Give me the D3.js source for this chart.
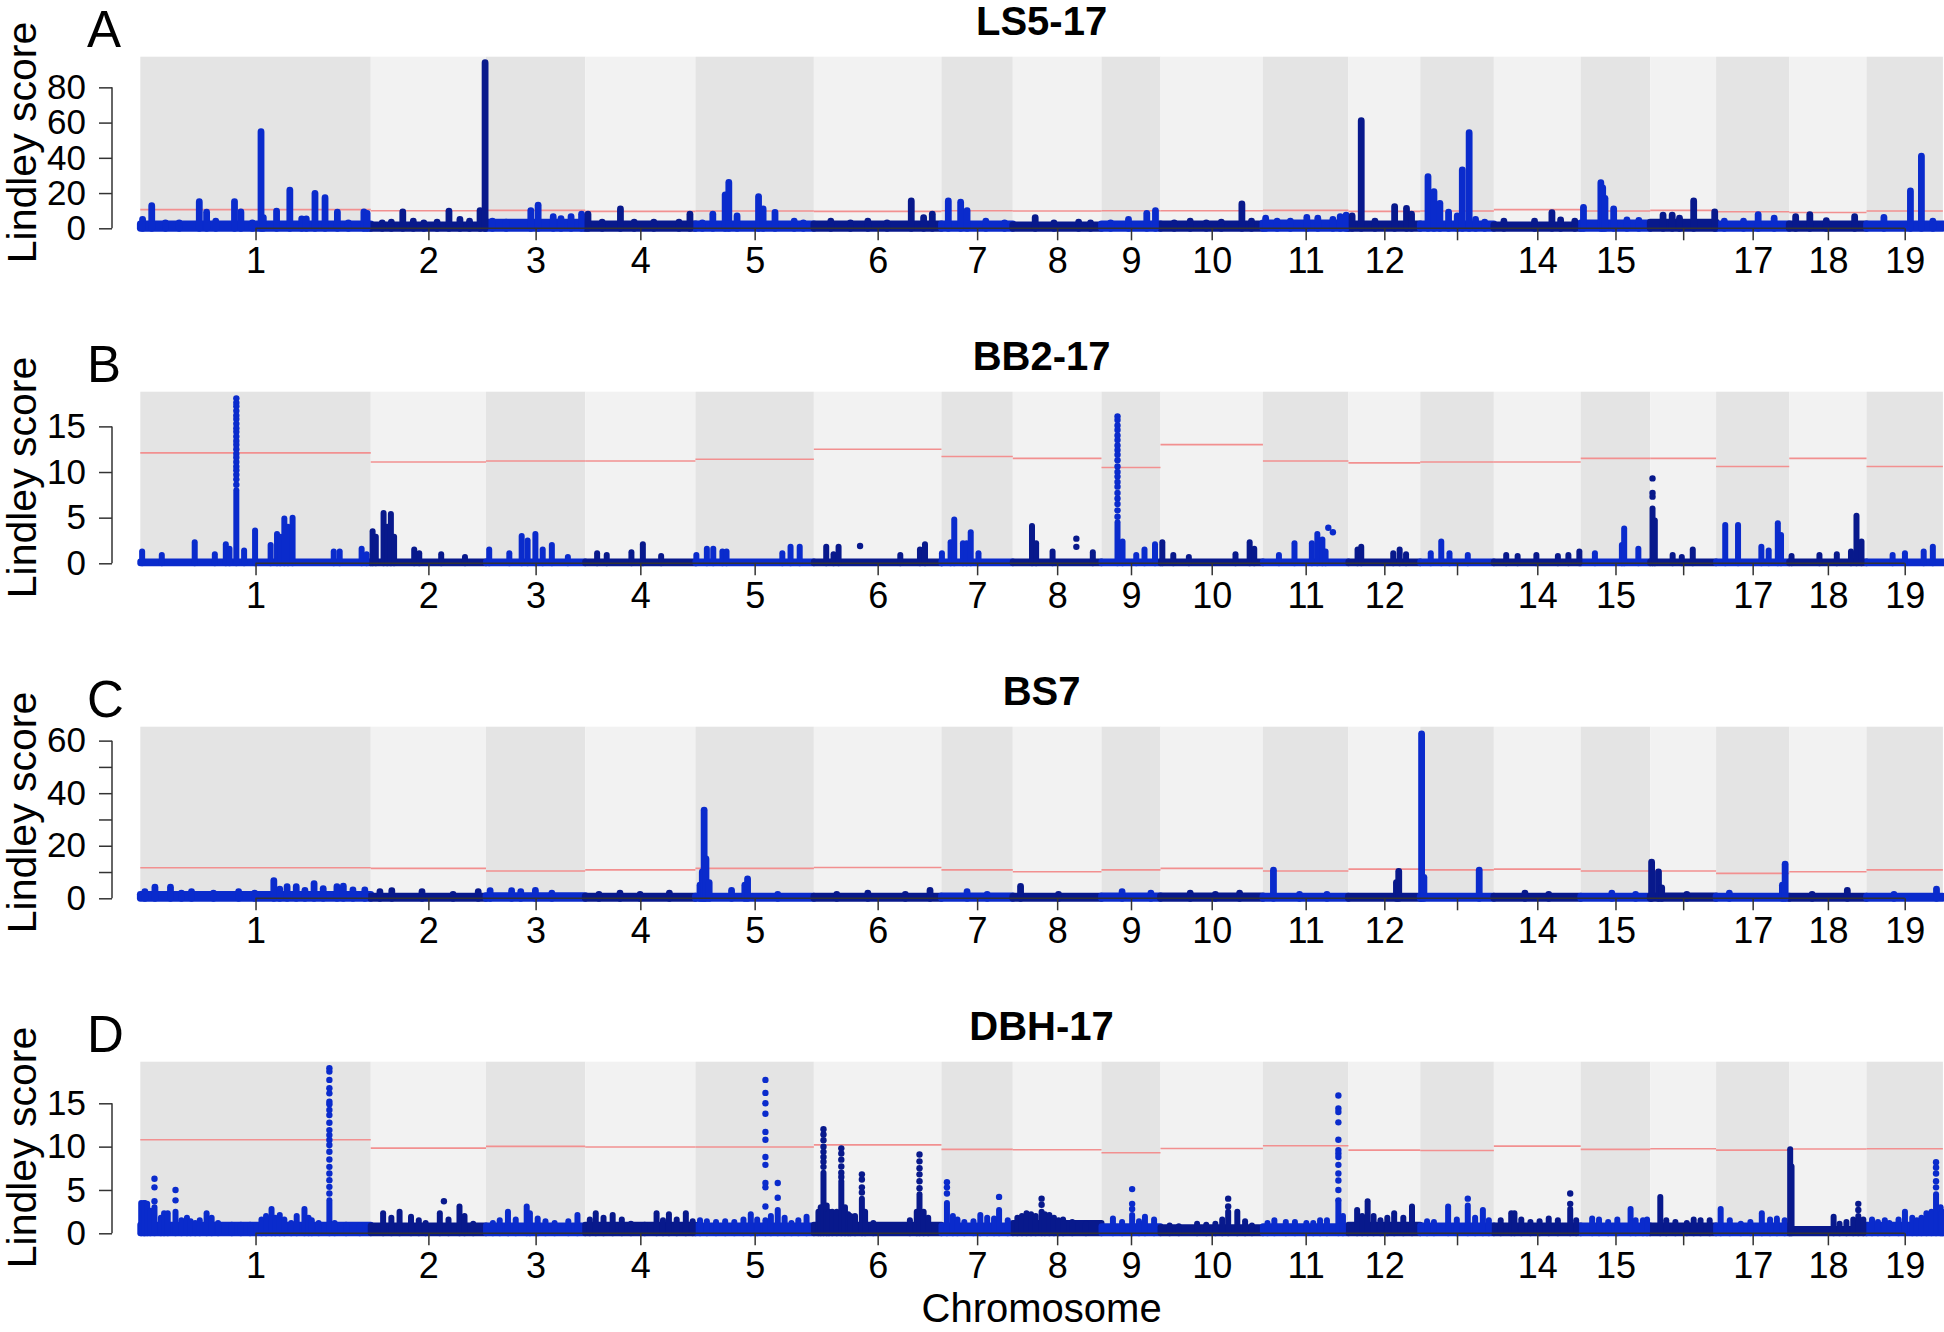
<!DOCTYPE html>
<html><head><meta charset="utf-8">
<script src="https://cdn.jsdelivr.net/npm/d3@7"></script>
<style>
html,body{margin:0;padding:0;background:#fff;}
svg{display:block;font-family:"Liberation Sans",Arial,Helvetica,sans-serif;}
</style>
</head><body>
<svg id="chart" width="1944" height="1332"></svg>
<script>
// ---------------- DATA ----------------
const chromosomes = ["1","2","3","4","5","6","7","8","9","10","11","12","13","14","15","16","17","18","19"];
const chrLengthsMb = [50.4, 25.2, 21.7, 24.1, 25.9, 27.9, 15.6, 19.4, 12.9, 22.4, 18.7, 15.7, 16.1, 19.0, 15.2, 14.4, 16.0, 16.9, 16.7];
const xTickLabels = ["1","2","3","4","5","6","7","8","9","10","11","12","","14","15","","17","18","19"];

const panelLetters = ["A","B","C","D"];
const panelTitles = ["LS5-17","BB2-17","BS7","DBH-17"];
const yMaxes = [97.4, 18.8, 65.3, 19.8];

const yTicksA = [0,20,40,60,80];       const yTickLabelsA = ["0","20","40","60","80"];
const yTicksB = [0,5,10,15];           const yTickLabelsB = ["0","5","10","15"];
const yTicksC = [0,10,20,30,40,50,60]; const yTickLabelsC = ["0","","20","","40","","60"];
const yTicksD = [0,5,10,15];           const yTickLabelsD = ["0","5","10","15"];

// significance thresholds per chromosome
const thresholdA = [10.6,10.0,10.2,9.6,9.8,9.6,10.0,9.8,10.0,10.0,10.2,9.6,9.8,10.6,9.8,10.2,9.4,9.0,9.8];
const thresholdB = [12.1,11.1,11.2,11.2,11.4,12.5,11.7,11.5,10.5,13.0,11.2,11.0,11.1,11.1,11.5,11.5,10.6,11.5,10.6];
const thresholdC = [11.6,11.4,10.4,10.8,11.4,11.7,10.8,10.1,10.8,11.4,10.4,11.1,10.8,11.1,10.4,10.4,9.5,10.1,10.8];
const thresholdD = [10.8,9.83,10.03,9.95,9.95,10.2,9.68,9.64,9.29,9.79,10.1,9.6,9.56,10.06,9.68,9.75,9.6,9.72,9.75];

// background score level of the dense SNP cloud per chromosome
const noiseA = [2.5,2,3.5,2.5,2.5,2.5,2.5,2,2.5,2.5,3,2.5,2.5,2,3,3.5,2.5,2.5,2.5];
const noiseB = [0.2,0.2,0.2,0.2,0.2,0.2,0.2,0.2,0.2,0.2,0.2,0.2,0.2,0.2,0.2,0.2,0.2,0.2,0.2];
const noiseC = [1.5,0.8,1.0,0.8,0.8,0.8,0.9,0.8,0.9,0.9,0.8,0.8,0.8,0.8,0.8,0.9,0.8,0.8,0.8];
const noiseD = [1.0,0.9,0.9,1.0,0.9,1.0,0.9,1.2,0.8,0.7,0.8,1.0,0.9,0.9,0.9,0.9,0.9,0.5,1.0];

// dense columns of SNPs: [chromosome, position (Mb), max Lindley score]
const columnsA = [
 [1,0.5,5],[1,2.5,12.8],[1,5.5,3],[1,8.5,3],[1,12.9,15.1],[1,14.5,9.1],[1,16.5,4],[1,20.6,15.1],[1,22.0,9.3],[1,24.5,3],[1,26.4,54.8],[1,26.9,6],[1,29.8,9.8],[1,32.7,21.7],[1,35.3,5.3],[1,36.3,5.3],[1,38.2,19.8],[1,40.4,17.4],[1,43.1,9.2],[1,45.5,3],[1,48.9,9.3],[1,49.6,8.5],
 [2,2.5,3],[2,4.5,3.5],[2,7.0,9.3],[2,9.3,4],[2,11.6,3],[2,14.5,3.5],[2,17.1,9.7],[2,19.5,5],[2,21.6,4],[2,23.9,10],[2,25.0,94.0],
 [3,1.4,4],[3,4.4,3.5],[3,9.8,10],[3,11.4,13.1],[3,14.7,6.6],[3,16.4,5.5],[3,18.6,6.6],[3,20.9,8],
 [4,0.6,8],[4,3.7,3.5],[4,7.7,11],[4,10.7,3.5],[4,15.0,3.5],[4,20.5,3.5],[4,22.9,8],
 [5,1.5,3],[5,3.8,8],[5,6.5,19],[5,7.3,26],[5,9.1,7],[5,13.8,18],[5,14.8,11],[5,17.4,9],[5,21.6,4],[5,23.6,3],
 [6,3.7,4],[6,8,3],[6,11.8,4],[6,16,3],[6,21.3,15.5],[6,24,6],[6,25.9,8],
 [7,1.5,15.5],[7,4.2,14.8],[7,5.6,10],[7,9.7,4],[7,13.8,3],
 [8,4.9,6],[8,9,3],[8,14.4,3.5],[8,17,3],
 [9,2,3],[9,5.9,5],[9,9.9,8.5],[9,11.8,10],
 [10,3,3],[10,6.5,4],[10,10,3],[10,13.3,3.5],[10,17.8,13.8],[10,19.9,4],
 [11,0.6,5.7],[11,3.1,4],[11,6,4],[11,9.6,6.2],[11,12.0,5.7],[11,15.3,5],[11,16.9,6.6],[11,18.2,7.5],
 [12,0.8,7],[12,2.8,61.1],[12,5.8,4],[12,10.1,12.3],[12,12.7,11.3],[12,13.8,8],
 [13,1.7,29.3],[13,3.0,20.8],[13,4.3,14.2],[13,6.2,9.1],[13,8.1,7],[13,9.2,33.1],[13,10.7,54.3],[13,12.1,5],[13,14.1,3.5],
 [14,2.2,4],[14,8.9,4],[14,12.7,8.9],[14,14.6,4.7],[14,17.7,4],
 [15,0.6,11.9],[15,4.4,25.9],[15,4.8,23],[15,5.3,17],[15,7.2,11],[15,10.1,4.7],[15,12.7,4.5],
 [16,2.8,7.5],[16,4.8,7.5],[16,6.4,5.7],[16,9.5,15.5],[16,14.1,9.3],
 [17,1.8,4],[17,6,4],[17,9.2,7.8],[17,12.7,5.7],
 [18,1.4,6.6],[18,4.5,7.8],[18,8.1,4.4],[18,14.3,6.6],
 [19,3.8,6.2],[19,9.6,21.2],[19,12.0,41.0],[19,14.5,4]
];
const columnsB = [
 [1,0.4,1.3],[1,4.7,0.9],[1,11.9,2.3],[1,16.3,1.0],[1,18.7,2.1],[1,19.5,1.6],[1,21.0,8.0],[1,22.7,1.4],[1,25.1,3.6],[1,28.5,2.0],[1,29.9,3.2],[1,30.6,2.9],[1,31.5,4.9],[1,32.3,4.0],[1,33.3,5.0],[1,42.3,1.3],[1,43.6,1.3],[1,48.4,1.6],[1,49.5,1.0],
 [2,0.4,3.5],[2,1.1,2.9],[2,2.8,5.5],[2,3.6,4.0],[2,4.4,5.4],[2,5.1,2.9],[2,9.5,1.5],[2,10.6,1.1],[2,15.4,1.0],[2,20.6,0.7],
 [3,0.7,1.5],[3,5.1,1.1],[3,7.8,3.0],[3,9.1,2.5],[3,10.8,3.2],[3,12.4,1.5],[3,14.4,2.0],[3,17.9,0.7],
 [4,2.6,1.1],[4,4.7,0.9],[4,10.1,1.2],[4,12.6,2.1],[4,16.6,0.8],
 [5,0.2,0.9],[5,2.5,1.6],[5,3.9,1.6],[5,5.9,1.3],[5,6.8,1.3],[5,19.0,1.1],[5,20.8,1.8],[5,22.8,1.8],
 [6,2.7,1.8],[6,4.3,1.0],[6,5.4,1.8],[6,18.9,0.9],[6,23.2,1.5],[6,24.3,2.1],
 [7,0.1,1.1],[7,2.0,2.3],[7,2.8,4.8],[7,4.7,2.2],[7,5.5,2.2],[7,6.4,3.4],[7,8.1,1.1],
 [8,4.2,4.1],[8,5.1,2.2],[8,8.7,1.3],[8,17.5,1.2],
 [9,3.5,4.5],[9,4.6,2.4],[9,7.6,0.9],[9,9.4,1.5],[9,11.7,2.1],
 [10,0.4,2.3],[10,2.8,0.9],[10,6.2,0.7],[10,16.4,1.0],[10,19.5,2.3],[10,20.5,1.6],
 [11,3.5,0.9],[11,6.9,2.2],[11,10.7,2.2],[11,11.9,3.2],[11,13.0,2.6],[11,13.7,1.3],
 [12,2.0,1.5],[12,2.8,1.8],[12,9.8,1.1],[12,11.2,1.5],[12,12.6,1.0],
 [13,2.3,1.1],[13,4.6,2.4],[13,6.4,1.1],[13,10.4,0.9],
 [14,2.7,0.9],[14,5.2,0.8],[14,9.3,0.9],[14,14.0,0.8],[14,16.3,0.9],[14,18.7,1.3],
 [15,3.1,1.1],[15,9.0,2.0],[15,9.5,3.8],[15,12.6,1.6],
 [16,0.5,6.0],[16,1.0,4.7],[16,4.9,0.9],[16,6.9,0.7],[16,9.3,1.5],
 [17,2.0,4.2],[17,4.8,4.2],[17,9.9,1.8],[17,11.5,1.4],[17,13.5,4.4],[17,14.2,3.1],
 [18,0.5,0.8],[18,6.6,0.9],[18,10.4,1.0],[18,13.5,1.3],[18,14.7,5.2],[18,15.8,2.4],
 [19,5.7,0.9],[19,8.4,1.1],[19,12.5,1.3],[19,14.5,1.8]
];
const columnsC = [
 [1,1.0,2.5],[1,3.2,4.2],[1,6.6,4.2],[1,9,2],[1,11.2,2.5],[1,16,2],[1,21.5,2.5],[1,25,2],[1,29.2,6.7],[1,30.5,3.5],[1,32.1,4.4],[1,34.1,4.4],[1,36,3],[1,38.0,5.6],[1,40,3.7],[1,43.0,4.4],[1,44.4,4.6],[1,46.5,3.2],[1,49.1,3.2],
 [2,2.0,2.5],[2,4.6,2.9],[2,11.2,2.5],[2,18,1.5],[2,23.5,2.5],
 [3,0.9,2.9],[3,5.6,2.9],[3,7.6,2.5],[3,10.8,3],[3,14.4,2],
 [4,3,1.5],[4,7.6,2],[4,12,1.5],[4,18.4,2],
 [5,1.0,5],[5,1.5,10],[5,1.9,33.5],[5,2.3,15],[5,3.0,6],[5,7.9,3],[5,10.8,5],[5,11.4,7.4],[5,18,1.5],
 [6,5,1.5],[6,11.8,2],[6,20,1.5],[6,25.4,3],
 [7,5.6,2.5],[7,10,1.5],
 [8,1.7,4.5],[8,10,1.5],
 [9,4.5,2.5],[9,10.8,2],
 [10,6.5,2],[10,12,1.5],[10,17.3,2],
 [11,2.3,10.7],[11,8,1.5],[11,14,1.5],
 [12,10.5,6],[12,11.0,10.2],
 [13,0.3,62.6],[13,0.8,8],[13,12.9,10.7],
 [14,6.8,2],[14,12,1.5],
 [15,6.8,2],[15,12,1.5],
 [16,0.3,13.8],[16,1.8,10],[16,2.5,4],[16,8,1.5],
 [17,2.9,2],[17,14.5,5],[17,15.1,13],
 [18,5,1.5],[18,12.7,3],
 [19,6,1.5],[19,15.3,3.5]
];
const columnsD = [
 [1,0.2,3.5],[1,0.8,3.5],[1,1.0,3.5],[1,1.5,3.4],[1,2.2,2.6],[1,3.1,3.0],[1,4.5,1.8],[1,5.2,2.3],[1,6.0,2.3],[1,7.7,2.5],[1,9,1.5],[1,10.2,1.8],[1,11,1.4],[1,12,1.2],[1,13,1.5],[1,14.5,2.3],[1,15.6,1.8],[1,17,1.2],[1,20,1.0],[1,22,1.0],[1,24,1.0],[1,26.5,1.6],[1,27.5,2.0],[1,28.7,2.8],[1,29.5,1.8],[1,30.5,2.1],[1,31.5,1.6],[1,33,1.2],[1,34.2,2.0],[1,35.9,2.8],[1,36.8,1.8],[1,37.5,1.5],[1,39,1.2],[1,41.35,3.8],[1,42.5,1.2],[1,45,1.0],[1,48,0.9],
 [2,2.7,2.3],[2,4.5,1.8],[2,6.3,2.5],[2,8.8,1.9],[2,10.5,1.5],[2,12,1.2],[2,15.1,2.3],[2,17,1.6],[2,19.4,3.1],[2,20.5,2],[2,22.4,1.1],
 [3,1.5,1.2],[3,3,1.5],[3,4.8,2.5],[3,6.5,1.6],[3,8.9,3.1],[3,9.6,2.3],[3,11.3,1.7],[3,13,1.4],[3,15,1.2],[3,18,1.4],[3,20.0,2.1],
 [4,1,1.6],[4,2.3,2.3],[4,4,1.8],[4,6.0,2.1],[4,8,1.6],[4,10.0,1.1],[4,13,1.0],[4,15.6,2.3],[4,17,1.5],[4,18.3,2.2],[4,20,1.6],[4,22.0,2.3],[4,23.5,1.4],
 [5,1.0,1.5],[5,2.5,1.4],[5,4.5,1.3],[5,6.5,1.4],[5,8.5,1.3],[5,10.5,1.6],[5,12.1,2.2],[5,13.5,1.6],[5,15.3,1.5],[5,16.5,2.0],[5,18.0,2.7],[5,19.5,1.8],[5,21,1.2],[5,22.5,1.5],[5,24.3,1.9],
 [6,1,2.5],[6,1.5,3],[6,2.1,7.0],[6,2.8,3.2],[6,3.3,2.5],[6,4,2.5],[6,5,2.5],[6,6.0,6.0],[6,6.8,3],[6,7.5,2.2],[6,8,2],[6,9,2],[6,10.5,4.0],[6,11.2,2.5],[6,13,1.2],[6,21,1.5],[6,22.5,2.5],[6,23.1,4.5],[6,24,2.5],[6,25,1.8],
 [7,1.2,3.5],[7,2.5,2],[7,3.5,1.6],[7,5,1.3],[7,7,1.4],[7,8.5,2.1],[7,10,1.8],[7,11.5,1.7],[7,12.6,2.7],[7,14.5,1.5],
 [8,1,1.8],[8,2,2],[8,3,2.3],[8,4,2.2],[8,5,2.0],[8,6.3,2.5],[8,7,2.2],[8,8,2.1],[8,9,1.8],[8,10,1.5],[8,11,1.6],[8,13,1.3],[8,16,1.1],
 [9,2.5,1.7],[9,4.5,1.3],[9,6.7,2.1],[9,8.2,1.4],[9,9.5,1.9],[9,11.5,1.6],
 [10,2,0.9],[10,4,0.8],[10,8,1.1],[10,10,1.0],[10,12,1.1],[10,13.5,1.6],[10,14.8,2.5],[10,16.8,2.5],[10,18.5,1.4],[10,20,0.9],
 [11,1,1.2],[11,2.5,1.5],[11,5,1.3],[11,7,1.3],[11,9.5,1.2],[11,11,1.2],[11,12.5,1.5],[11,14,1.5],[11,16.5,3.5],[11,17.5,2],
 [12,1.9,2.7],[12,3,2],[12,4.2,3.7],[12,5.5,2],[12,7,1.5],[12,8.5,1.8],[12,10.0,2.3],[12,12,1.8],[12,13.9,3.1],
 [13,1.5,1.4],[13,3,1.3],[13,6.1,3.1],[13,8,1.6],[13,10.4,3.2],[13,12,1.8],[13,13.7,2.7],[13,15,1.5],
 [14,1.5,1.5],[14,3.8,2.3],[14,4.5,2.3],[14,6,1.6],[14,8,1.3],[14,10,1.4],[14,12,1.7],[14,14,1.5],[14,16.7,2.8],[14,18,1.5],
 [15,2.5,1.7],[15,4,1.6],[15,6,1.3],[15,8,1.6],[15,10.9,2.8],[15,12,1.5],[15,13.6,1.5],[15,14.5,1.6],
 [16,2.2,4.2],[16,3.5,1.5],[16,5.5,1.3],[16,8,1.2],[16,9.5,1.6],[16,11.0,1.5],[16,13,1.5],
 [17,1.0,2.8],[17,3,1.5],[17,5.4,1.1],[17,7.5,1.3],[17,10.0,2.3],[17,11.8,1.6],[17,13.3,1.7],[17,15,1.5],
 [18,0.2,9.7],[18,0.5,7.7],[18,9.7,1.9],[18,11,1.1],[18,12.5,1.3],[18,14,1.6],[18,15.1,2.0],[18,16.2,1.6],
 [19,1.2,1.6],[19,2.5,1.3],[19,4,1.5],[19,5,1.2],[19,7,1.6],[19,8.4,2.5],[19,10,1.8],[19,11,1.5],[19,12,1.8],[19,13.1,2.3],[19,14.2,2.5],[19,15.2,4.5],[19,16.2,3],[19,16.5,2.5]
];

// separate SNPs standing above the dense columns: [chromosome, position (Mb), [scores]]
const dotsA = [];
const dotsB = [
 [1,21.0,[18.07,17.6,17.2,16.7,16.2,15.8,15.3,14.8,14.4,13.9,13.4,13.0,12.5,12.0,11.6,11.1,10.6,10.2,9.7,9.2,8.6]],
 [6,10.1,[1.9]],[8,13.9,[2.7,1.8]],
 [9,3.5,[16.1,15.7,15.1,14.6,14.0,13.5,12.9,12.4,11.9,11.3,10.6,10.0,9.5,8.9,8.4,7.7,7.1,6.5,5.8,5.1]],
 [11,14.3,[3.9]],[11,15.3,[3.4]],[16,0.5,[9.3,7.7,7.3]]
];
const dotsC = [];
const dotsD = [
 [1,3.1,[6.3,5.3,3.7]],[1,7.7,[5.0,3.8]],
 [1,41.35,[19.05,18.66,17.7,16.73,16.15,15.19,14.88,14.22,13.64,12.76,11.91,11.33,10.76,10.18,9.41,8.52,7.67,6.9,6.13,5.36,4.59]],
 [2,16.0,[3.7]],
 [5,15.3,[17.7,16.2,15.0,13.8,11.7,10.8,8.8,7.9,5.8,5.3,3.1]],[5,18.0,[5.8,4.1]],
 [6,2.1,[12.0,11.4,10.75,10.0,9.4,8.8,8.25,7.67]],[6,6.0,[9.8,9.2,8.5,7.7,7.0,6.5]],
 [6,10.5,[6.8,6.2,5.3,4.7]],[6,23.1,[9.1,8.3,7.5,6.8,6.0,5.2]],
 [7,1.2,[5.9,5.3,4.6]],[7,12.6,[4.2]],[8,6.3,[4.0,3.3]],[9,6.7,[5.1,3.4,2.8]],[10,14.8,[4.0,3.1]],
 [11,16.5,[15.9,14.4,14.0,12.8,10.8,9.6,9.2,8.8,7.9,6.9,6.1,5.0,3.8]],
 [13,10.4,[4.0]],[14,16.7,[4.6,3.4]],[18,15.1,[3.4,2.7]],
 [19,15.2,[8.2,7.6,6.9,6.0,5.3]]
];

// ---------------- LAYOUT / STYLE ----------------
const plotLeft = 140.3, plotRight = 1942.9, plotHeight = 171.6;
const panelTops = [56.7, 391.7, 726.7, 1061.7];
const bandDark = "#e4e4e4", bandLight = "#f2f2f2";
const colOdd = "#0a2bcc", colEven = "#08198c";
const thrColor = "#f29090";
const axisColor = "#333";
const chrColor = c => (c % 2 === 1 ? colOdd : colEven);

const panels = [
  {ticks:yTicksA, labels:yTickLabelsA, thr:thresholdA, noise:noiseA, cols:columnsA, dots:dotsA, w:6.8},
  {ticks:yTicksB, labels:yTickLabelsB, thr:thresholdB, noise:noiseB, cols:columnsB, dots:dotsB, w:6.0},
  {ticks:yTicksC, labels:yTickLabelsC, thr:thresholdC, noise:noiseC, cols:columnsC, dots:dotsC, w:6.8},
  {ticks:yTicksD, labels:yTickLabelsD, thr:thresholdD, noise:noiseD, cols:columnsD, dots:dotsD, w:6.0}
].map((p,i)=>Object.assign(p,{letter:panelLetters[i], title:panelTitles[i], yMax:yMaxes[i], top:panelTops[i]}));

const svg = d3.select("#chart");
const starts = [0, ...d3.cumsum(chrLengthsMb)];
const total = starts[starts.length-1];
const x = d3.scaleLinear().domain([0,total]).range([plotLeft, plotRight]);
const mids = chrLengthsMb.map((l,i)=>starts[i]+l/2);
const gpos = (c,p)=>starts[c-1]+p;

panels.forEach(p=>{
  const g = svg.append("g");
  const y0 = p.top + plotHeight;
  const y = d3.scaleLinear().domain([0,p.yMax]).range([y0,p.top]);
  const r = p.w/2;

  g.selectAll("rect.band").data(chromosomes).join("rect").attr("class","band")
    .attr("x",(d,i)=>x(starts[i])).attr("width",(d,i)=>x(starts[i+1])-x(starts[i]))
    .attr("y",p.top).attr("height",y0-p.top)
    .attr("fill",(d,i)=> i%2===0 ? bandDark : bandLight);

  g.selectAll("line.thr").data(p.thr).join("line").attr("class","thr")
    .attr("x1",(d,i)=>x(starts[i])).attr("x2",(d,i)=>x(starts[i+1]))
    .attr("y1",d=>y(d)).attr("y2",d=>y(d))
    .attr("stroke",thrColor).attr("stroke-width",1.6);

  // dense SNP cloud per chromosome
  g.selectAll("rect.noise").data(p.noise).join("rect").attr("class","noise")
    .attr("x",(d,i)=>x(starts[i])-r).attr("width",(d,i)=>x(starts[i+1])-x(starts[i])+2*r)
    .attr("y",d=>y(d)-r).attr("height",d=>y0-y(d)+2*r).attr("rx",r)
    .attr("fill",(d,i)=>chrColor(i+1));

  const cols = p.cols.slice().sort((a,b)=>a[0]-b[0]);
  g.selectAll("line.col").data(cols).join("line").attr("class","col")
    .attr("x1",d=>x(gpos(d[0],d[1]))).attr("x2",d=>x(gpos(d[0],d[1])))
    .attr("y1",y(0)).attr("y2",d=>y(d[2]))
    .attr("stroke",d=>chrColor(d[0])).attr("stroke-width",p.w).attr("stroke-linecap","round");

  const dots = p.dots.flatMap(d=>d[2].map(v=>[d[0],d[1],v]));
  g.selectAll("circle.dot").data(dots).join("circle").attr("class","dot")
    .attr("cx",d=>x(gpos(d[0],d[1]))).attr("cy",d=>y(d[2])).attr("r",3.2)
    .attr("fill",d=>chrColor(d[0]));

  // y axis
  const ya = g.append("g").attr("transform","translate(112,0)")
    .call(d3.axisLeft(y).tickValues(p.ticks).tickFormat((d,i)=>p.labels[i]).tickSize(13).tickPadding(13));
  ya.select(".domain").remove();
  ya.selectAll("line").attr("stroke",axisColor).attr("stroke-width",1.5);
  ya.selectAll("text").attr("font-size",35).attr("fill","#000").attr("font-family",null);
  ya.append("line").attr("x1",0).attr("x2",0).attr("y1",y(p.ticks[0])).attr("y2",y(p.ticks[p.ticks.length-1]))
    .attr("stroke",axisColor).attr("stroke-width",1.5);

  // x axis
  const xa = g.append("g").attr("transform",`translate(0,${y0})`)
    .call(d3.axisBottom(x).tickValues(mids).tickFormat((d,i)=>xTickLabels[i]).tickSize(12).tickPadding(7.4));
  xa.select(".domain").remove();
  xa.selectAll("line").attr("stroke",axisColor).attr("stroke-width",1.5);
  xa.selectAll("text").attr("font-size",36).attr("fill","#000").attr("font-family",null);
  xa.append("line").attr("x1",x(mids[0])).attr("x2",x(mids[mids.length-1])).attr("y1",0).attr("y2",0)
    .attr("stroke",axisColor).attr("stroke-width",1.5);

  g.append("text").attr("x",87).attr("y",p.top-10).attr("font-size",51).text(p.letter);
  g.append("text").attr("x",(plotLeft+plotRight)/2).attr("y",p.top-22).attr("font-size",40)
    .attr("font-weight","bold").attr("text-anchor","middle").text(p.title);
  g.append("text").attr("transform",`translate(36,${p.top+plotHeight/2}) rotate(-90)`)
    .attr("font-size",41).attr("text-anchor","middle").text("Lindley score");
});

svg.append("text").attr("x",(plotLeft+plotRight)/2).attr("y",1322).attr("font-size",40)
  .attr("text-anchor","middle").text("Chromosome");
</script>
</body></html>
